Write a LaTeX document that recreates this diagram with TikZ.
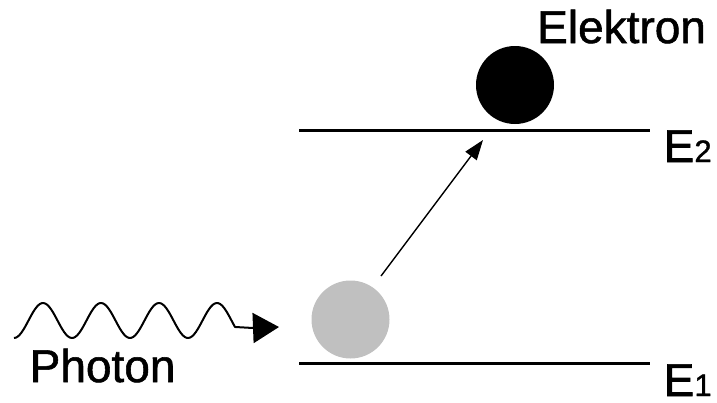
\documentclass[tikz,border=0pt]{standalone}
\usepackage{fontspec}
\setmainfont[FakeBold=1.2]{Liberation Sans}
\usetikzlibrary{arrows.meta}
\tikzset{
  level/.style={line width=3pt},
  lbl/.style={anchor=base west, inner sep=0pt, font=\fontsize{46}{50}\selectfont},
  ball/.style={circle, inner sep=0pt, minimum size=78pt},
  wave/.style={line width=2pt, line join=round},
  jump/.style={line width=1.4pt, -{Triangle[length=20pt,width=14pt]}}
}
\begin{document}
\begin{tikzpicture}[x=1pt,y=-1pt]
\useasboundingbox (0,0) rectangle (717,402);
% energy levels
\coordinate (e2l) at (299,130);
\coordinate (e2r) at (650,130);
\coordinate (e1l) at (299,363);
\coordinate (e1r) at (650,363);
\draw[level] (e2l) -- (e2r);
\draw[level] (e1l) -- (e1r);
% electrons
\node[ball, fill=black] (el) at (515,85) {};
\node[ball, fill={rgb,255:red,192;green,192;blue,192}] (gr) at (350.5,319.5) {};
% transition arrow
\coordinate (js) at (381,276);
\coordinate (je) at (483,140);
\draw[jump] (js) -- (je);
% photon wave
\coordinate (ws) at (14,338);
\coordinate (wm) at (253,328);
\coordinate (we) at (279,327);
\draw[wave] (ws) -- plot[domain=14:235, samples=120, smooth] (\x, {320.5+17.5*cos(6.2069*(\x-14))}) -- (wm);
\draw[line width=2pt, -{Triangle[length=26pt,width=30pt]}] (wm) -- (we);
% labels
\node[lbl] (ph) at (29.5,382) {Photon};
\node[lbl] (ek) at (537,43) {Elektron};
\node[lbl] (E2) at (663.5,162) {E{\fontsize{31}{34}\selectfont 2}};
\node[lbl] (E1) at (663.5,396) {E{\fontsize{31}{34}\selectfont 1}};
\end{tikzpicture}
\end{document}
